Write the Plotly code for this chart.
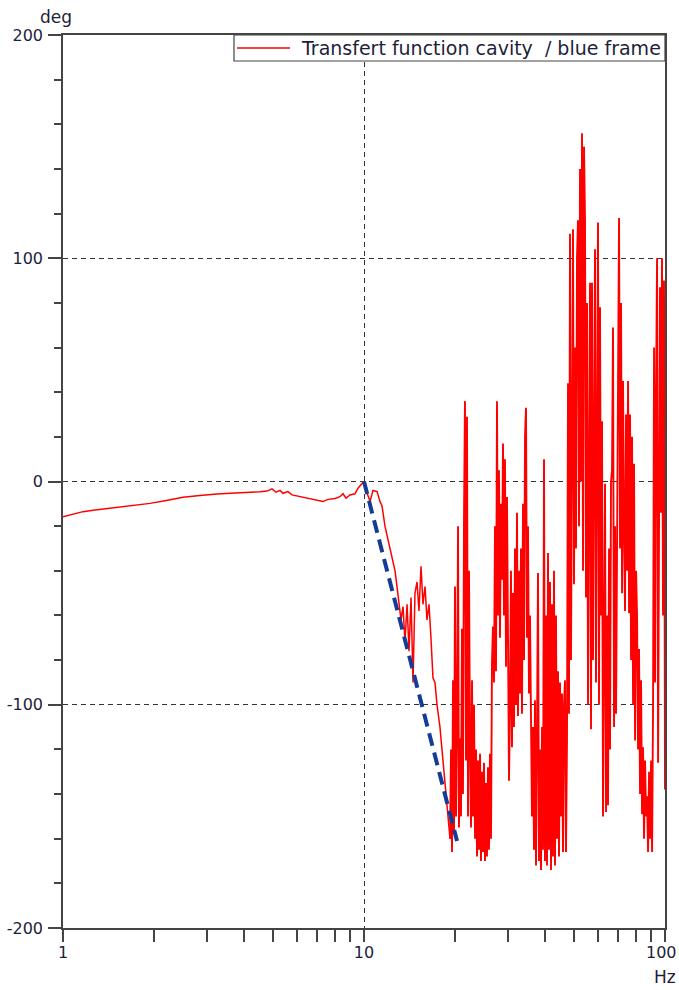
import plotly.graph_objects as go

# ---- data (frequency in Hz, phase in deg) ----
freq_low = [1.000, 1.096, 1.165, 1.277, 1.379, 1.512, 1.669, 1.803, 1.946, 2.183,
            2.504, 2.852, 3.248, 3.728, 4.181, 4.512, 4.761, 4.947, 5.101, 5.260,
            5.382, 5.591, 5.765, 6.129, 6.616, 7.034, 7.308, 7.593, 8.011, 8.323,
            8.517, 8.715, 8.986, 9.335, 9.552, 9.773]
phase_low = [-15.8, -14.5, -13.5, -12.8, -12.3, -11.7, -10.8, -10.3, -9.8, -8.6,
             -7.1, -6.3, -5.6, -5.2, -5.0, -4.6, -4.3, -3.3, -4.8, -4.0,
             -5.3, -4.5, -6.0, -6.8, -7.5, -8.3, -9.0, -8.0, -7.6, -6.8,
             -5.5, -7.5, -6.0, -5.5, -3.0, -1.5]

freq_mid = [10.00, 10.23, 10.47, 10.71, 11.05, 11.30, 11.48, 11.74, 12.01, 12.39,
            12.68, 12.87, 13.07, 13.27, 13.48, 13.68, 13.90, 14.11, 14.33, 14.55,
            14.77, 15.00, 15.23, 15.47, 15.70, 15.95, 16.19, 16.44, 16.69, 16.95,
            17.21, 17.48, 17.88, 18.30, 18.72, 19.01]
phase_mid = [0, -5, -9, -4, -4.5, -9, -11, -20, -26, -34,
             -40, -47, -55, -62, -56, -72, -55, -76, -52, -90,
             -50, -45, -58, -38, -55, -47, -62, -55, -70, -88,
             -90, -100, -110, -125, -140, -150]

freq_high = [
    19.31, 19.46, 19.61, 19.76, 19.91, 20.06, 20.22, 20.37, 20.53, 20.68,
    20.84, 21.00, 21.16, 21.32, 21.49, 21.65, 21.82, 21.99, 22.16, 22.33,
    22.50, 22.67, 22.85, 23.02, 23.20, 23.38, 23.56, 23.74, 23.92, 24.10,
    24.29, 24.47, 24.66, 24.85, 25.04, 25.23, 25.43, 25.62, 25.82, 26.02,
    26.22, 26.42, 26.62, 26.82, 27.03, 27.24, 27.45, 27.66, 27.87, 28.08,
    28.30, 28.52, 28.74, 28.96, 29.18, 29.40, 29.63, 29.86, 30.09, 30.32,
    30.55, 30.78, 31.02, 31.26, 31.50, 31.74, 31.99, 32.23, 32.48, 32.73,
    32.98, 33.23, 33.49, 33.75, 34.01, 34.27, 34.53, 34.79, 35.06, 35.33,
    35.60, 35.87, 36.15, 36.43, 36.71, 36.99, 37.28, 37.56, 37.85, 38.14,
    38.43, 38.73, 39.03, 39.33, 39.63, 39.93, 40.24, 40.55, 40.86, 41.17,
    41.49, 41.81, 42.13, 42.45, 42.78, 43.11, 43.44, 43.77, 44.11, 44.45,
    44.79, 45.13, 45.48, 45.83, 46.18, 46.53, 46.89, 47.25, 47.62, 47.98,
    48.35, 48.72, 49.10, 49.47, 49.85, 50.23, 50.62, 51.01, 51.40, 51.80,
    52.20, 52.60, 53.00, 53.41, 53.82, 54.23, 54.65, 55.07, 55.49, 55.92,
    56.35, 56.78, 57.21, 57.65, 58.10, 58.54, 58.99, 59.44, 59.90, 60.36,
    60.83, 61.30, 61.77, 62.24, 62.72, 63.20, 63.69, 64.18, 64.67, 65.17,
    65.67, 66.17, 66.68, 67.19, 67.71, 68.23, 68.76, 69.29, 69.82, 70.36,
    70.90, 71.44, 71.99, 72.54, 73.10, 73.66, 74.23, 74.80, 75.38, 75.96,
    76.54, 77.13, 77.72, 78.32, 78.92, 79.53, 80.14, 80.75, 81.37, 81.99,
    82.62, 83.26, 83.90, 84.54, 85.19, 85.85, 86.51, 87.17, 87.84, 88.52,
    89.20, 89.89, 90.58, 91.27, 91.97, 92.68, 93.39, 94.11, 94.84, 95.54,
    96.25, 96.99, 97.73, 98.48, 99.24, 100.00]
phase_high = [
    -160, -120, -166, -89, -158, -47, -150, -110, -20, -155,
    -115, -150, -66, -140, -17, 36, -125, 29, -150, -40,
    -119, -155, -89, -150, -100, -160, -120, -168, -125, -165,
    -122, -170, -130, -166, -126, -170, -135, -168, -128, -165,
    -122, -160, -81, -65, -90, -20, -85, 36, -60, 5,
    -70, -10, -44, 17, -60, 10, -83, -7, -70, -134,
    -100, -40, -119, -50, -110, -30, -100, -14, -105, -40,
    -95, -30, -104, -10, -80, 20, 33, -70, -20, -95,
    -60, -104, -150, -110, -165, -98, -172, -115, -41, -170,
    -120, -174, -110, -165, 10, -170, -60, -172, -32, -165,
    -45, -174, -55, -168, -40, -172, -60, -160, -85, -168,
    -90, -150, -95, -166, -100, -89, -166, -116, 44, -104,
    111, -80, 60, 113, -46, 60, -30, 100, 117, -20,
    140, 0, 156, -40, 150, 117, -52, 80, -100, 40,
    89, -111, 89, -80, 60, 104, -90, 50, 116, -100,
    78, -60, 27, -150, -80, -1, -148, -60, -145, -30,
    -120, 0, 5, 69, -110, -20, -104, -40, 60, 118,
    -30, 80, -50, 45, -22, -58, 30, -40, 45, -59,
    30, -80, 20, -100, 8, -116, -40, -60, -120, -75,
    -140, -89, -149, -119, -160, -125, -150, -141, -166, -130,
    -160, -125, -166, -100, 60, -90, 40, 100, -126, 20,
    87, -14, 100, -60, 90, -138]

slope_freq = [10.0, 20.37]
slope_phase = [0, -161]

x_major = [1, 10, 100]
x_labels = ["1", "10", "100"]
x_minor = [2, 3, 4, 5, 6, 7, 8, 9, 20, 30, 40, 50, 60, 70, 80, 90]
y_major = [-200, -100, 0, 100, 200]
y_labels = ["-200", "-100", "0", "100", "200"]
legend_label = "Transfert function cavity\u00a0 / blue frame"

FONT = "DejaVu Sans"
TXT = "#1e1e3c"
AX = "#444444"
GRID = "#333333"
RED = "#ff0000"

FIG_W, FIG_H = 679, 990
ML, MR, MT, MB = 63, 14, 35, 62

fig = go.Figure()
# smooth part of the measured phase (1 Hz .. ~19 Hz)
fig.add_trace(go.Scatter(
    x=freq_low + freq_mid + freq_high[:1],
    y=phase_low + phase_mid + phase_high[:1],
    mode="lines", line=dict(color=RED, width=1.5),
    name=legend_label, showlegend=False,
))
# noisy part of the same measurement (~19 Hz .. 100 Hz)
fig.add_trace(go.Scatter(
    x=freq_high, y=phase_high,
    mode="lines", line=dict(color=RED, width=1.9),
    name=legend_label, showlegend=False,
))
fig.add_trace(go.Scatter(
    x=slope_freq, y=slope_phase, mode="lines",
    line=dict(color="#143c96", width=4, dash="13px,7px"),
    showlegend=False, hoverinfo="skip",
))

# legend drawn as a framed box with a line sample and real text
L, R, T, B = 63, 665, 35, 928   # window pixels of the plot box
def px_x(p):
    return (p - L) / (R - L)
def px_y(p):
    return (B - p) / (B - T)

shapes = [
    dict(type="rect", xref="paper", yref="paper",
         x0=px_x(234), x1=px_x(665), y0=px_y(61), y1=px_y(35),
         line=dict(color=AX, width=1.2), fillcolor="white", layer="above"),
    dict(type="line", xref="paper", yref="paper",
         x0=px_x(237), x1=px_x(290), y0=px_y(48), y1=px_y(48),
         line=dict(color=RED, width=1.5), layer="above"),
]

fig.update_layout(
    width=FIG_W, height=FIG_H,
    margin=dict(l=ML, r=MR, t=MT, b=MB, autoexpand=False),
    paper_bgcolor="white", plot_bgcolor="white",
    font=dict(family=FONT, size=16, color=TXT),
    showlegend=False,
    shapes=shapes,
    xaxis=dict(
        type="log", range=[0, 2], automargin=False,
        tickmode="array", tickvals=x_major[:2], ticktext=x_labels[:2],
        ticks="outside", ticklen=12, tickwidth=1.5, tickcolor=AX,
        ticklabelstandoff=-3, ticklabeloverflow="allow",
        showline=True, linecolor=AX, linewidth=1.5, mirror=True,
        showgrid=True, gridcolor=GRID, griddash="5px,4px", gridwidth=1.4,
        minor=dict(tickmode="array", tickvals=x_minor + x_major[2:], ticks="outside",
                   ticklen=12, tickwidth=1.5, tickcolor=AX, showgrid=False),
        zeroline=False,
        tickfont=dict(family=FONT, size=16, color=TXT),
    ),
    yaxis=dict(
        range=[-200, 200], automargin=False,
        tickmode="array", tickvals=y_major, ticktext=y_labels,
        ticks="outside", ticklen=13, tickwidth=1.5, tickcolor=AX,
        ticklabelstandoff=2, ticklabeloverflow="allow",
        showline=True, linecolor=AX, linewidth=1.5, mirror=True,
        showgrid=True, gridcolor=GRID, griddash="5px,4px", gridwidth=1.4,
        minor=dict(dtick=20, ticks="outside", ticklen=7, tickwidth=1.5,
                   tickcolor=AX, showgrid=False),
        zeroline=False,
        tickfont=dict(family=FONT, size=16, color=TXT),
    ),
    annotations=[
        dict(text=legend_label, xref="paper", yref="paper",
             x=px_x(299), y=px_y(48), xanchor="left", yanchor="middle",
             showarrow=False, font=dict(family=FONT, size=19, color=TXT)),
        dict(text="deg", xref="paper", yref="paper", x=0, y=1,
             xanchor="center", yanchor="bottom", xshift=-7, yshift=6,
             showarrow=False, font=dict(family=FONT, size=17, color=TXT)),
        # last x tick label, right-aligned to the window edge as in the reference
        dict(text=x_labels[2], xref="x", yref="paper", x=2, y=0,
             xanchor="right", yanchor="top", xshift=14, yshift=-13,
             showarrow=False, font=dict(family=FONT, size=16, color=TXT)),
        dict(text="Hz", xref="paper", yref="paper", x=1, y=0,
             xanchor="center", yanchor="top", xshift=0, yshift=-37,
             showarrow=False, font=dict(family=FONT, size=17, color=TXT)),
    ],
)

# remove the default 8px page margin so the figure fills the window exactly
fig.write_html(
    "out.html",
    config={"displayModeBar": False},
    post_script="document.body.style.margin='0px';"
                "document.body.style.overflow='hidden';",
)
